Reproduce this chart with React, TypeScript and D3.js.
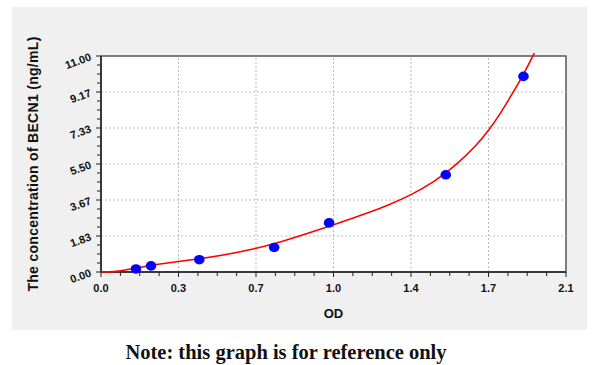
import React, { useEffect, useRef } from 'react';
import * as d3 from 'd3';

// standards (OD, concentration)
const odValues = [0.158, 0.226, 0.444, 0.782, 1.03, 1.557, 1.908];
const concValues = [0.156, 0.313, 0.625, 1.25, 2.5, 4.95, 9.96];

// fitted curve
const curveOD = [0.0, 0.06, 0.1, 0.2, 0.3, 0.45, 0.55, 0.7, 0.8, 1.0, 1.2, 1.3, 1.4, 1.5, 1.6, 1.7, 1.75, 1.8, 1.856, 1.908, 1.957];
const curveConc = [0.0, 0.01, 0.08, 0.29, 0.46, 0.68, 0.85, 1.2, 1.48, 2.2, 2.98, 3.42, 3.92, 4.55, 5.4, 6.5, 7.2, 8.0, 9.05, 10.05, 11.15];

const xTickValues = [0, 0.35, 0.7, 1.05, 1.4, 1.75, 2.1];
const xTickLabels = ['0.0', '0.3', '0.7', '1.0', '1.4', '1.7', '2.1'];
const yTickValues = [0, 11 / 6, 22 / 6, 33 / 6, 44 / 6, 55 / 6, 11];
const yTickLabels = ['0.00', '1.83', '3.67', '5.50', '7.33', '9.17', '11.00'];

const W = 600;
const H = 365;
const M = { left: 101, right: 34, top: 56, bottom: 93 };

export default function App() {
  const svgRef = useRef<SVGSVGElement | null>(null);

  useEffect(() => {
    if (!svgRef.current) return;
    const svg = d3.select(svgRef.current);
    svg.selectAll('*').remove();

    const x = d3.scaleLinear().domain([0, 2.1]).range([M.left, W - M.right]);
    const y = d3.scaleLinear().domain([0, 11]).range([H - M.bottom, M.top]);
    const font = 'Liberation Sans, Arial, sans-serif';

    // grey panel
    svg.append('rect').attr('x', 12).attr('y', 7).attr('width', 575).attr('height', 323).attr('fill', '#f0f0f0');

    // plot area
    svg
      .append('rect')
      .attr('x', M.left)
      .attr('y', M.top)
      .attr('width', W - M.right - M.left)
      .attr('height', H - M.bottom - M.top)
      .attr('fill', '#fff')
      .attr('stroke', '#555')
      .attr('stroke-width', 1.5);

    // grid
    const grid = svg.append('g').attr('stroke', '#bbb').attr('stroke-dasharray', '2,2').attr('stroke-width', 1);
    xTickValues.slice(1, -1).forEach((v) => {
      grid.append('line').attr('x1', x(v)).attr('x2', x(v)).attr('y1', y(0)).attr('y2', y(11));
    });
    yTickValues.slice(1, -1).forEach((v) => {
      grid.append('line').attr('y1', y(v)).attr('y2', y(v)).attr('x1', x(0)).attr('x2', x(2.1));
    });

    // minor ticks
    const xMinor = d3.range(0, 25).map((i) => (i * 2.1) / 24);
    const yMinor = d3.range(0, 25).map((i) => (i * 11) / 24);

    // x axis
    const xAxis = svg.append('g').attr('transform', `translate(0,${y(0)})`);
    xAxis.append('line').attr('x1', x(0)).attr('x2', x(2.1)).attr('stroke', '#222').attr('stroke-width', 1.5);
    xMinor.forEach((v, i) => {
      xAxis
        .append('line')
        .attr('x1', x(v))
        .attr('x2', x(v))
        .attr('y1', 0)
        .attr('y2', i % 4 === 0 ? 5 : 4)
        .attr('stroke', '#222');
    });
    xTickValues.forEach((v, i) => {
      xAxis
        .append('text')
        .attr('x', x(v))
        .attr('y', 20)
        .attr('text-anchor', 'middle')
        .attr('font-family', font)
        .attr('font-weight', 'bold')
        .attr('font-size', 11)
        .attr('fill', '#111')
        .text(xTickLabels[i]);
    });

    // y axis
    const yAxis = svg.append('g').attr('transform', `translate(${x(0)},0)`);
    yAxis.append('line').attr('y1', y(0)).attr('y2', y(11)).attr('stroke', '#222').attr('stroke-width', 1.5);
    yMinor.forEach((v, i) => {
      yAxis
        .append('line')
        .attr('y1', y(v))
        .attr('y2', y(v))
        .attr('x1', 0)
        .attr('x2', i % 4 === 0 ? -5 : -4)
        .attr('stroke', '#222');
    });
    yTickValues.forEach((v, i) => {
      yAxis
        .append('text')
        .attr('transform', `translate(-9,${y(v) + 4}) rotate(-20)`)
        .attr('text-anchor', 'end')
        .attr('font-family', font)
        .attr('font-weight', 'bold')
        .attr('font-size', 11)
        .attr('fill', '#111')
        .text(yTickLabels[i]);
    });

    // axis titles
    svg
      .append('text')
      .attr('x', x(1.05))
      .attr('y', 318)
      .attr('text-anchor', 'middle')
      .attr('font-family', font)
      .attr('font-weight', 'bold')
      .attr('font-size', 13)
      .attr('fill', '#111')
      .text('OD');
    svg
      .append('text')
      .attr('transform', `translate(38,${(y(0) + y(11)) / 2}) rotate(-90)`)
      .attr('text-anchor', 'middle')
      .attr('font-family', font)
      .attr('font-weight', 'bold')
      .attr('font-size', 14)
      .attr('letter-spacing', 0.3)
      .attr('fill', '#111')
      .text('The concentration of BECN1 (ng/mL)');

    // fitted curve
    const line = d3
      .line<number>()
      .x((d) => x(d))
      .y((_, i) => y(curveConc[i]))
      .curve(d3.curveBasis);
    svg
      .append('path')
      .datum(curveOD)
      .attr('d', line)
      .attr('fill', 'none')
      .attr('stroke', '#ff0000')
      .attr('stroke-width', 1.6);

    // points
    svg
      .append('g')
      .selectAll('ellipse')
      .data(odValues)
      .join('ellipse')
      .attr('cx', (d) => x(d))
      .attr('cy', (_, i) => y(concValues[i]))
      .attr('rx', 5.3)
      .attr('ry', 4.8)
      .attr('fill', '#0000ff');

    // note
    svg
      .append('text')
      .attr('x', 286)
      .attr('y', 359)
      .attr('text-anchor', 'middle')
      .attr('font-family', 'Liberation Serif, Times New Roman, serif')
      .attr('font-weight', 'bold')
      .attr('font-size', 20.5)
      .attr('fill', '#111')
      .text('Note: this graph is for reference only');
  }, []);

  return (
    <svg
      ref={svgRef}
      width={W}
      height={H}
      style={{ position: 'absolute', left: 0, top: 0, background: '#fff' }}
    />
  );
}
